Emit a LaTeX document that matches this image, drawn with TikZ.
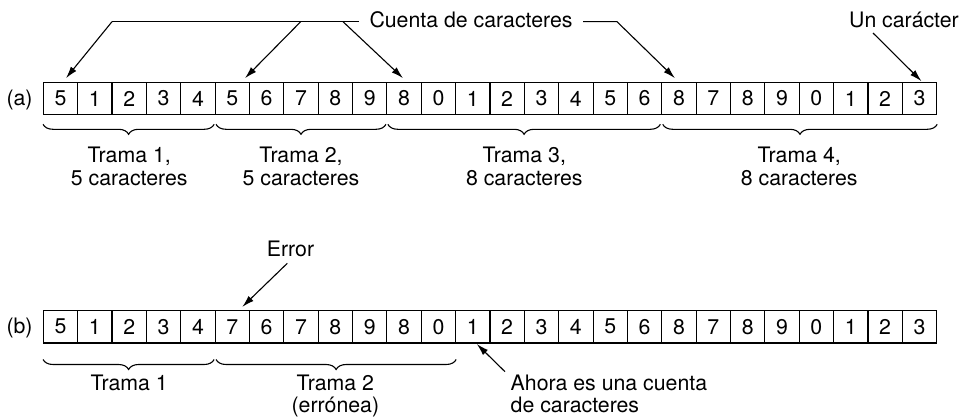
\documentclass[tikz,border=0pt]{standalone}
\usepackage{fontspec}
\setmainfont{TeX Gyre Heros}
\usetikzlibrary{arrows.meta,decorations.pathreplacing,calc}
\begin{document}
\begin{tikzpicture}[x=1pt,y=-1pt,
  every node/.style={font=\fontsize{21.3}{23.3}\selectfont, inner sep=0pt},
  cell/.style={draw, line width=1.1pt, minimum width=34.36pt, minimum height=32.5pt},
  conn/.style={line width=1.1pt, -{Latex[length=12pt,width=7pt]}},
  plain/.style={line width=1.1pt},
  brc/.style={line width=1.1pt, decorate, decoration={brace, mirror, amplitude=10pt}},
  lbla/.style={align=center, anchor=north},
  lblb/.style={align=center, anchor=north, font=\fontsize{21.3}{21.7}\selectfont}]
\useasboundingbox (0,0) rectangle (960,417);

% row (a)
\foreach \d [count=\i] in {5,1,2,3,4,5,6,7,8,9,8,0,1,2,3,4,5,6,8,7,8,9,0,1,2,3}
  \node[cell] (a\i) at ({43.3+(\i-0.5)*34.36},98.5) {\d};
% row (b)
\foreach \d [count=\i] in {5,1,2,3,4,7,6,7,8,9,8,0,1,2,3,4,5,6,8,7,8,9,0,1,2,3}
  \node[cell] (b\i) at ({43.3+(\i-0.5)*34.36},326.7) {\d};

\node[anchor=base east] (la) at ([xshift=-10pt]a1.base west) {(a)};
\node[anchor=base east] (lb) at ([xshift=-10pt]b1.base west) {(b)};

% Cuenta de caracteres
\node[anchor=base] (cuenta) at (471,28) {Cuenta de caracteres};
\coordinate (h1) at (112,21.7);
\coordinate (h2) at (300.7,21.7);
\coordinate (h3) at (343,21.7);
\coordinate (hL) at (359,21.7);
\coordinate (hR1) at (583,21.7);
\coordinate (hR2) at (617,21.7);
\draw[plain] (h1) -- (hL);
\draw[conn] (h1) -- ([xshift=5.5pt,yshift=3.5pt]a1.north);
\draw[conn] (h2) -- ([xshift=12.7pt,yshift=3.5pt]a6.north);
\draw[conn] (h3) -- ([xshift=-1pt,yshift=3.5pt]a11.north);
\draw[conn] (hR1) -- (hR2) -- ([xshift=-4pt,yshift=3.5pt]a19.north);

% Un caracter
\node[anchor=base west] (uncar) at (849,27.3) {Un carácter};
\coordinate (u1) at (873,33);
\draw[conn] (u1) -- ([xshift=2pt,yshift=0.5pt]a26.north);

% braces (a)
\draw[brc] ([xshift=0.3pt,yshift=-9pt]a1.south west) -- ([xshift=-1.5pt,yshift=-9pt]a5.south east);
\draw[brc] ([xshift=1.5pt,yshift=-9pt]a6.south west) -- ([xshift=-1.5pt,yshift=-9pt]a10.south east);
\draw[brc] ([xshift=1.5pt,yshift=-9pt]a11.south west) -- ([xshift=-2pt,yshift=-9pt]a18.south east);
\draw[brc] ([xshift=1.5pt,yshift=-9pt]a19.south west) -- ([xshift=0pt,yshift=-9pt]a26.south east);

\node[lbla] (t1) at ($(a1.south west)!0.5!(a5.south east)+(0,31)$) {Trama 1,\\5 caracteres};
\node[lbla] (t2) at ($(a6.south west)!0.5!(a10.south east)+(0,31)$) {Trama 2,\\5 caracteres};
\node[lbla] (t3) at ($(a11.south west)!0.5!(a18.south east)+(0,31)$) {Trama 3,\\8 caracteres};
\node[lbla] (t4) at ($(a19.south west)!0.5!(a26.south east)+(0,31)$) {Trama 4,\\8 caracteres};

% Error
\node[anchor=base west] (err) at (266.7,256.7) {Error};
\coordinate (e1) at (287.3,263.3);
\draw[conn] (e1) -- ([xshift=10pt,yshift=3pt]b6.north);

% braces (b)
\draw[brc] ([xshift=0.3pt,yshift=-16pt]b1.south west) -- ([xshift=-1.5pt,yshift=-16pt]b5.south east);
\draw[brc] ([xshift=1.5pt,yshift=-16pt]b6.south west) -- ([xshift=0pt,yshift=-16pt]b12.south east);

\node[lblb] (tb1) at ($(b1.south west)!0.5!(b5.south east)+(0,31.5)$) {Trama 1};
\node[lblb] (tb2) at ($(b6.south west)!0.5!(b12.south east)+(0,31.5)$) {Trama 2\\(errónea)};

% Ahora
\node[anchor=north west, align=left, font=\fontsize{21.3}{21.7}\selectfont] (ahora) at (510.5,375) {Ahora es una cuenta\\de caracteres};
\coordinate (ah) at (505,371.7);
\draw[conn] (ah) -- ([xshift=4pt,yshift=-0.5pt]b13.south);
\end{tikzpicture}
\end{document}
